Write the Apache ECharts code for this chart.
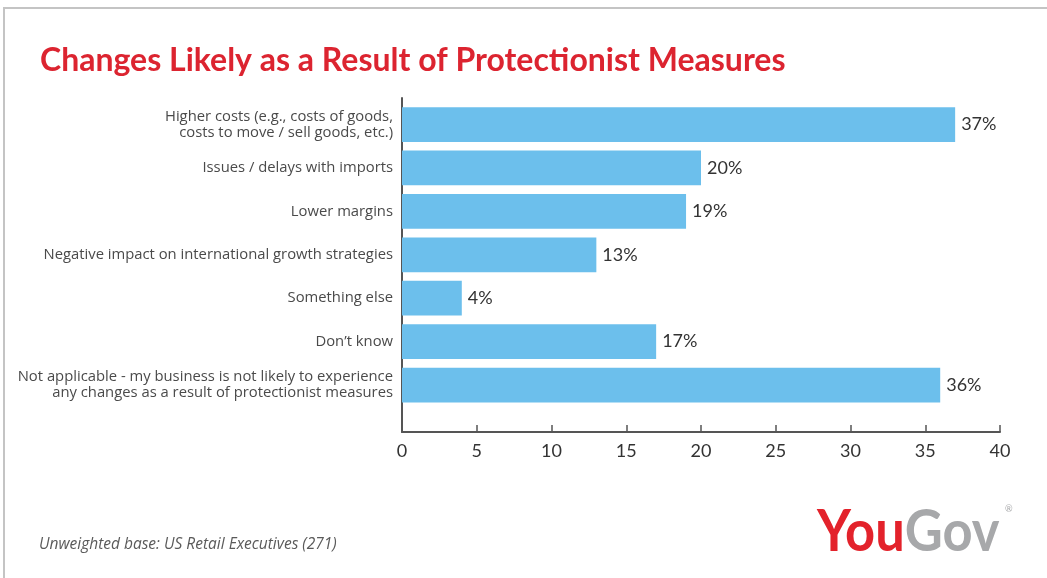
<!DOCTYPE html>
<html>
<head>
<meta charset="utf-8">
<script src="https://cdn.jsdelivr.net/npm/echarts@6/dist/echarts.min.js"></script>
<style>
  html, body { margin: 0; padding: 0; background: #fff; }
  #frame { position: absolute; left: 3px; top: 7px; width: 1044px; height: 571px;
           border-top: 2px solid #c4c4c4; border-left: 2px solid #c4c4c4; box-sizing: border-box; }
  #chart { position: absolute; left: 0; top: 0; width: 1047px; height: 578px; }
</style>
</head>
<body>
<div id="frame"></div>
<div id="chart"></div>
<script>
// Survey answers, top to bottom
const categories = [
  'Higher costs (e.g., costs of goods,\ncosts to move / sell goods, etc.)',
  'Issues / delays with imports',
  'Lower margins',
  'Negative impact on international growth strategies',
  'Something else',
  'Don\u2019t know',
  'Not applicable - my business is not likely to experience\nany changes as a result of protectionist measures'
];
// Share of respondents (%)
const shares = [37, 20, 19, 13, 4, 17, 36];
const xTicks = [0, 5, 10, 15, 20, 25, 30, 35, 40];

const titleText = 'Changes Likely as a Result of Protectionist Measures';
const baseNote = 'Unweighted base: US Retail Executives (271)';

const FONT = 'Lato';
const TEXT_FONT = '"Open Sans"';
const chart = echarts.init(document.getElementById('chart'), null, { renderer: 'canvas' });

chart.setOption({
  animation: false,
  backgroundColor: 'transparent',
  title: {
    text: titleText,
    left: 35, top: 40,
    textStyle: { color: '#dc2430', fontFamily: FONT, fontWeight: 'bold', fontSize: 32 }
  },
  grid: [
    { left: 402, right: 47, top: 102.8, height: 304, containLabel: false },
    { left: 402, right: 47, top: 98, height: 334, containLabel: false }
  ],
  xAxis: [
    {
      gridIndex: 0, type: 'value',
      min: xTicks[0], max: xTicks[xTicks.length - 1], interval: 5,
      position: 'bottom', offset: 25.2,
      axisLine: { show: true, lineStyle: { color: '#555', width: 2 } },
      axisTick: { show: true, inside: true, length: 7, lineStyle: { color: '#555', width: 1.5 } },
      axisLabel: { color: '#333', fontFamily: FONT, fontSize: 18, margin: 10 },
      splitLine: { show: false }
    },
    { gridIndex: 1, type: 'value', show: false, min: 0, max: 40 }
  ],
  yAxis: [
    {
      gridIndex: 0, type: 'category', inverse: true, data: categories,
      axisLine: { show: false }, axisTick: { show: false },
      axisLabel: { color: '#4a4a4a', fontFamily: TEXT_FONT, fontSize: 14.8, lineHeight: 16, margin: 9, align: 'right' }
    },
    {
      gridIndex: 1, type: 'value', min: 0, max: 1,
      axisLine: { show: true, lineStyle: { color: '#555', width: 2 } },
      axisTick: { show: false }, axisLabel: { show: false }, splitLine: { show: false }
    }
  ],
  series: [{
    type: 'bar',
    xAxisIndex: 0, yAxisIndex: 0,
    data: shares,
    barCategoryGap: '20%',
    itemStyle: { color: '#6cbfec' },
    label: {
      show: true, position: 'right', distance: 6,
      formatter: p => p.value + '%',
      color: '#333', fontFamily: FONT, fontSize: 18
    }
  }],
  graphic: [
    {
      type: 'text', left: 39, top: 537,
      style: { text: baseNote, fill: '#5a5a5a', font: 'italic 15.5px ' + TEXT_FONT }
    },
    {
      type: 'text', left: 817, top: 504, scaleX: 0.92,
      style: {
        text: '{you|You}{gov|Gov}{r|®}',
        rich: {
          you: { fill: '#e3222b', fontFamily: FONT, fontWeight: 'bold', fontSize: 57 },
          gov: { fill: '#a7a8aa', fontFamily: FONT, fontWeight: 'bold', fontSize: 57 },
          r: { fill: '#a7a8aa', fontFamily: FONT, fontSize: 10, verticalAlign: 'top', padding: [0, 0, 16, 6] }
        }
      }
    }
  ]
});
</script>
</body>
</html>
